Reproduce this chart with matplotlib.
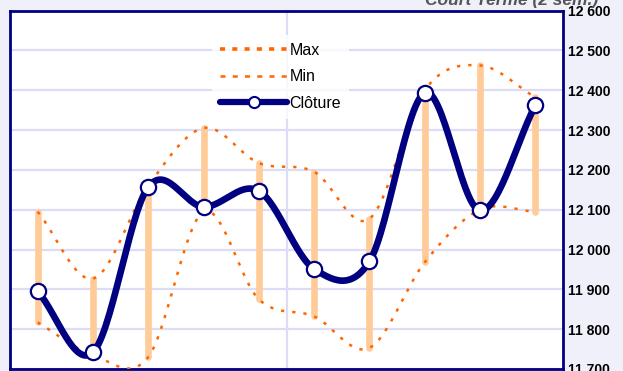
import numpy as np
import matplotlib
matplotlib.use("Agg")
import matplotlib.pyplot as plt
from matplotlib.lines import Line2D

# Daily session values (10 sessions)
sessions = np.arange(10)
highs = [12095, 11927, 12160, 12305, 12217, 12195, 12077, 12400, 12462, 12382]
lows = [11817, 11735, 11730, 12095, 11875, 11832, 11753, 11968, 12100, 12095]
closes = [11895, 11742, 12157, 12107, 12147, 11951, 11970, 12393, 12098, 12362]

y_ticks = [11700, 11800, 11900, 12000, 12100, 12200, 12300, 12400, 12500, 12600]
y_ticklabels = ["11 700", "11 800", "11 900", "12 000", "12 100",
                "12 200", "12 300", "12 400", "12 500", "12 600"]
title = "Court Terme (2 sem.)"


def catmull_rom(x, y, steps=30):
    """Smooth curve through the points (uniform Catmull-Rom spline)."""
    x = np.asarray(x, float)
    y = np.asarray(y, float)
    px = np.concatenate([[2 * x[0] - x[1]], x, [2 * x[-1] - x[-2]]])
    py = np.concatenate([[2 * y[0] - y[1]], y, [2 * y[-1] - y[-2]]])
    xs, ys = [], []
    t = np.linspace(0, 1, steps, endpoint=False)
    for i in range(1, len(px) - 2):
        for p, out in ((px, xs), (py, ys)):
            p0, p1, p2, p3 = p[i - 1], p[i], p[i + 1], p[i + 2]
            out.append(0.5 * ((2 * p1) + (-p0 + p2) * t
                              + (2 * p0 - 5 * p1 + 4 * p2 - p3) * t ** 2
                              + (-p0 + 3 * p1 - 3 * p2 + p3) * t ** 3))
    xs.append([x[-1]])
    ys.append([y[-1]])
    return np.concatenate(xs), np.concatenate(ys)


plt.rcParams['font.family'] = ['Liberation Sans', 'DejaVu Sans']

fig = plt.figure(figsize=(6.23, 3.71), dpi=100, facecolor="#f0f0fb")
ax = fig.add_axes([10 / 623, 1 - 369 / 371, 553 / 623, 358.5 / 371])
ax.set_facecolor("white")

ax.set_xlim(-0.5, 9.5)
ax.set_ylim(11700, 12600)

# grid
for v in y_ticks:
    ax.axhline(v, color="#dcdcf7", lw=1.6, zorder=0)
ax.axvline(4.5, color="#dcdcf7", lw=1.6, zorder=0)

# high-low range bars
ax.vlines(sessions, lows, highs, color="#ffcc99", lw=4.8,
          capstyle="round", zorder=2)

# smoothed max / min envelopes
hx, hy = catmull_rom(sessions, highs)
lx, ly = catmull_rom(sessions, lows)
ax.plot(hx, hy, color="#ff6600", lw=1.8, linestyle=(0, (1.3, 3.2)), zorder=3)
ax.plot(lx, ly, color="#ff6600", lw=1.8, linestyle=(0, (1.3, 3.2)), zorder=3)

# smoothed closing line with markers
cx, cy = catmull_rom(sessions, closes)
ax.plot(cx, cy, color="#000080", lw=4.8, solid_capstyle="round", zorder=4)
ax.plot(sessions, closes, linestyle="none", marker="o", markersize=11,
        markerfacecolor="white", markeredgecolor="#000080",
        markeredgewidth=1.6, zorder=5)

# axes styling
for s in ax.spines.values():
    s.set_color("#000080")
    s.set_linewidth(2)
ax.set_xticks([])
ax.yaxis.tick_right()
ax.set_yticks(y_ticks)
ax.set_yticklabels(y_ticklabels, fontsize=10, fontweight="bold")
ax.tick_params(axis="y", length=0, pad=3.5)

# legend
handles = [
    Line2D([], [], color="#ff6600", lw=2.6, linestyle=(0, (1.4, 2.0))),
    Line2D([], [], color="#ff6600", lw=1.8, linestyle=(0, (2.0, 2.9))),
    Line2D([], [], color="#000080", lw=4.5, marker="o", markersize=8,
           markerfacecolor="white", markeredgecolor="#000080",
           markeredgewidth=1.5, solid_capstyle="round"),
]
leg = ax.legend(handles, ["Max", "Min", "Clôture"], loc="upper left",
                bbox_to_anchor=((212 - 10) / 553, 1 - (35 - 10.5) / 358.5),
                frameon=True, fancybox=False, fontsize=11.5,
                handlelength=4.2, handletextpad=0.15, labelspacing=0.72,
                borderpad=0.5, borderaxespad=0)
leg.get_frame().set_facecolor("white")
leg.get_frame().set_edgecolor("white")
leg.get_frame().set_linewidth(0)
leg.set_zorder(6)

fig.text(598 / 623, 1 - 5 / 371, title, ha="right", va="baseline",
         fontsize=12.5, fontweight="bold", fontstyle="italic", color="#555555")

fig.savefig("out.png", dpi=100, facecolor=fig.get_facecolor())
